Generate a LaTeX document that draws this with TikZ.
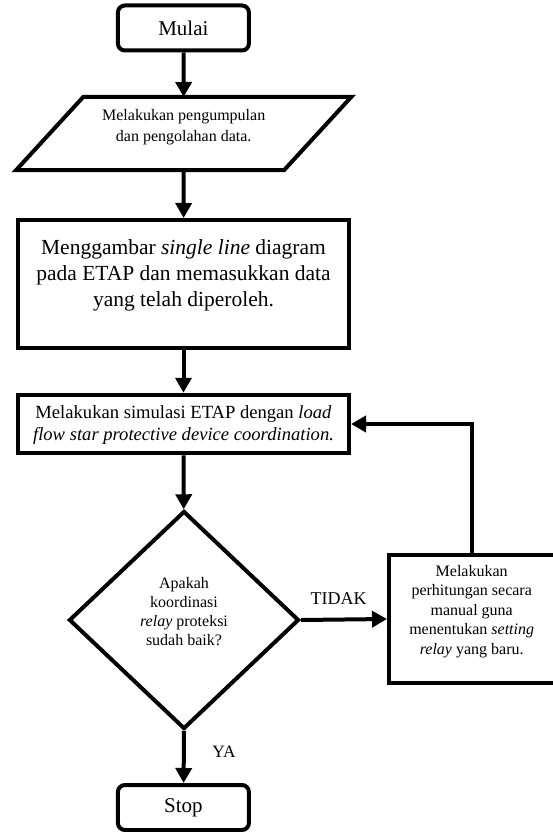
\documentclass[tikz,border=0pt]{standalone}
\usepackage{fontspec}
\setmainfont{Liberation Serif}
\usetikzlibrary{arrows.meta,shapes.geometric,calc}
\begin{document}
\begin{tikzpicture}[x=1pt,y=-1pt,
  lw/.style={line width=4pt},
  term/.style={draw,lw,rounded corners=7pt,minimum width=131pt,minimum height=45pt,inner sep=0pt,font=\fontsize{21}{25}\selectfont},
  proc/.style={draw,lw,inner sep=0pt},
  txt/.style={align=center,inner sep=0pt},
  arr/.style={lw,-{Triangle[length=15pt,width=16pt]}},
]
\useasboundingbox (0,0) rectangle (553,832);

% terminals
\node[term] (mulai) at (183.4,28) {Mulai};
\node[term] (stop) at (183.4,807.5) {Stop};

% parallelogram (input)
\node[inner sep=0pt,outer sep=0pt,minimum width=268pt,minimum height=73pt] (par) at (183.7,133.5) {};
\draw[lw,line join=miter] ($(par.north west)+(33.5,0)$) -- ($(par.north east)+(33.5,0)$)
  -- ($(par.south east)+(-33.5,0)$) -- ($(par.south west)+(-33.5,0)$) -- cycle;
\node[txt,font=\fontsize{16}{21}\selectfont] (partext) at (183.7,127) {Melakukan pengumpulan\\dan pengolahan data.};

% process boxes
\node[proc,minimum width=331pt,minimum height=128pt] (b2) at (183.5,284) {};
\node[txt,font=\fontsize{21.5}{26}\selectfont] (b2text) at (183.5,275) {Menggambar \textit{single line} diagram\\pada ETAP dan memasukkan data\\yang telah diperoleh.};

\node[proc,minimum width=331pt,minimum height=58.5pt] (b3) at (183.5,424) {};
\node[txt,font=\fontsize{18.6}{21.5}\selectfont] (b3text) at (183.5,425) {Melakukan simulasi ETAP dengan \textit{load}\\\textit{flow star protective device coordination.}};

% decision
\node[diamond,draw,lw,inner sep=0pt,minimum width=230pt,minimum height=218pt] (dec) at (184,620) {};
\node[txt,font=\fontsize{16}{19.2}\selectfont] (dectext) at (184,611.5) {Apakah\\koordinasi\\\textit{relay} proteksi\\sudah baik?};

% correction box (right side runs off the page)
\node[proc,minimum width=190pt,minimum height=128pt] (b4) at (484,619) {};
\node[txt,font=\fontsize{16}{19.4}\selectfont] (b4text) at (471.7,611.5) {Melakukan\\perhitungan secara\\manual guna\\menentukan \textit{setting}\\\textit{relay} yang baru.};
\coordinate (b4top) at (b4text |- b4.north);

% labels
\node[txt,font=\fontsize{18}{20}\selectfont] (tidak) at (338.6,598.3) {TIDAK};
\node[txt,font=\fontsize{17.3}{20}\selectfont] (ya) at (224,751.7) {YA};

% connectors
\draw[arr] (mulai) -- (par.north);
\draw[arr] (par.south) -- (b2);
\draw[arr] (b2) -- (b3);
\draw[arr] (b3) -- (dec);
\draw[arr] (dec.east) -- (b4.west);
\draw[arr] (dec.south) -- (stop);
\draw[arr] (b4top) |- (b3.east);
\end{tikzpicture}
\end{document}
